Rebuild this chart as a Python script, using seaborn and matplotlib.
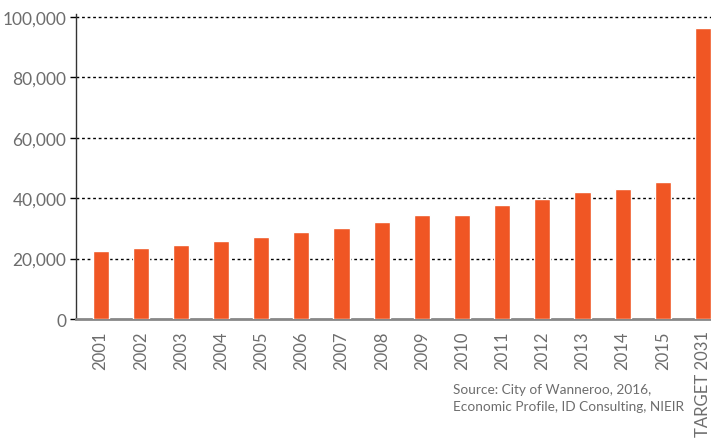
import pandas as pd
import matplotlib.pyplot as plt
import seaborn as sns

years = ["2001", "2002", "2003", "2004", "2005", "2006", "2007", "2008",
         "2009", "2010", "2011", "2012", "2013", "2014", "2015", "TARGET 2031"]
jobs = [22500, 23600, 24600, 25700, 27000, 28900, 30000, 32100,
        34500, 34400, 37700, 39700, 42000, 43000, 45200, 96200]
y_ticks = [0, 20000, 40000, 60000, 80000, 100000]
source_lines = ["Source: City of Wanneroo, 2016,",
                "Economic Profile, ID Consulting, NIEIR"]

df = pd.DataFrame({"year": years, "jobs": jobs})

sns.set_theme(style="white")
plt.rcParams["font.family"] = ["Lato", "DejaVu Sans"]

fig = plt.figure(figsize=(7.11, 4.39), dpi=100)
ax = fig.add_axes([0.107, 0.271, 0.893, 0.695])

sns.barplot(data=df, x="year", y="jobs", color="#F05624", saturation=1,
            width=0.4, ax=ax, zorder=3)

# last bar sits right on the figure edge, like the original
ax.set_xlim(-0.61, 15.2)
ax.set_ylim(0, 101000)
ax.set_yticks(y_ticks)
ax.set_yticklabels([f"{v:,}" for v in y_ticks])
for v in y_ticks[1:]:
    ax.axhline(v, color="black", linestyle=(0, (2, 2)), linewidth=1, zorder=1)

ax.set_xlabel("")
ax.set_ylabel("")
ax.tick_params(axis="x", rotation=90, labelsize=12, labelcolor="#6d6d6d",
               length=0, pad=8)
ax.tick_params(axis="y", labelsize=12.5, labelcolor="#6d6d6d", left=True,
               length=4, width=1, color="black", pad=3)

for side in ["top", "right"]:
    ax.spines[side].set_visible(False)
ax.spines["left"].set_color("#333333")
ax.spines["left"].set_linewidth(1)
ax.spines["bottom"].set_color("#888888")
ax.spines["bottom"].set_linewidth(2)

fig.text(0.637, 0.06, "\n".join(source_lines), fontsize=9.8,
         color="#6d6d6d", ha="left", va="bottom", linespacing=1.45)

fig.savefig("out.png", dpi=100)
